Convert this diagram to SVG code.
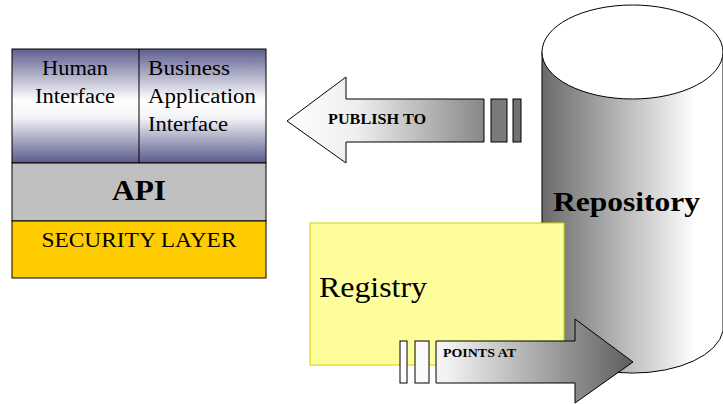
<svg xmlns="http://www.w3.org/2000/svg" width="723" height="404" viewBox="0 0 723 404">
  <style>
    .serif { font-family: "Liberation Serif", "Times New Roman", serif; fill: #000; }
    .bold { font-weight: bold; }
    .outline { stroke: #000; stroke-width: 1; }
  </style>
  <defs>
    <linearGradient id="topGrad" x1="0" y1="0" x2="0" y2="1">
      <stop offset="0" stop-color="#5e5e90"/>
      <stop offset="0.45" stop-color="#ffffff"/>
      <stop offset="0.6" stop-color="#f4f4f8"/>
      <stop offset="1" stop-color="#5a5a8c"/>
    </linearGradient>
    <linearGradient id="cylGrad" x1="542" y1="0" x2="723" y2="0" gradientUnits="userSpaceOnUse">
      <stop offset="0" stop-color="#6a6a6a"/>
      <stop offset="0.85" stop-color="#ffffff"/>
      <stop offset="1" stop-color="#ffffff"/>
    </linearGradient>
    <linearGradient id="pubGrad" x1="287" y1="0" x2="521" y2="0" gradientUnits="userSpaceOnUse">
      <stop offset="0" stop-color="#ffffff"/>
      <stop offset="0.3" stop-color="#eeeeee"/>
      <stop offset="1" stop-color="#6a6a6a"/>
    </linearGradient>
    <linearGradient id="ptsGrad" x1="400" y1="0" x2="633" y2="0" gradientUnits="userSpaceOnUse">
      <stop offset="0" stop-color="#ffffff"/>
      <stop offset="0.2" stop-color="#f2f2f2"/>
      <stop offset="1" stop-color="#5e5e5e"/>
    </linearGradient>
  </defs>

  <g id="client-stack">
    <rect x="12" y="49" width="254" height="114" fill="url(#topGrad)" class="outline"/>
    <line x1="139" y1="49" x2="139" y2="163" class="outline"/>
    <rect x="12" y="163" width="254" height="58" fill="#c0c0c0" class="outline"/>
    <rect x="12" y="221" width="254" height="57" fill="#ffcc00" class="outline"/>
    <text class="serif" font-size="20" x="75" y="75" text-anchor="middle" textLength="66" lengthAdjust="spacingAndGlyphs">Human</text>
    <text class="serif" font-size="20" x="75" y="103" text-anchor="middle" textLength="80" lengthAdjust="spacingAndGlyphs">Interface</text>
    <text class="serif" font-size="20" x="148" y="75" textLength="82" lengthAdjust="spacingAndGlyphs">Business</text>
    <text class="serif" font-size="20" x="148" y="103" textLength="108" lengthAdjust="spacingAndGlyphs">Application</text>
    <text class="serif" font-size="20" x="148" y="131" textLength="80" lengthAdjust="spacingAndGlyphs">Interface</text>
    <text class="serif bold" font-size="30" x="139" y="200" text-anchor="middle" textLength="54" lengthAdjust="spacingAndGlyphs">API</text>
    <text class="serif" font-size="20" x="139" y="247" text-anchor="middle" textLength="195" lengthAdjust="spacingAndGlyphs">SECURITY LAYER</text>
  </g>

  <g id="repository">
    <path d="M542,52 L542,331 A91,47 0 0 0 723,331 L723,52 Z" fill="url(#cylGrad)" class="outline"/>
    <ellipse cx="632.5" cy="52" rx="90.5" ry="47" fill="#ffffff" class="outline"/>
    <text class="serif bold" font-size="28" x="553" y="211" textLength="147" lengthAdjust="spacingAndGlyphs">Repository</text>
  </g>

  <g id="registry">
    <rect x="310" y="223" width="254" height="142" fill="#fdfd9b" stroke="#d0d000" stroke-width="1"/>
    <text class="serif" font-size="30" x="319" y="297" textLength="108" lengthAdjust="spacingAndGlyphs">Registry</text>
  </g>

  <g id="connectors">
    <g id="publish-to">
      <path d="M287,121 L346,77 L346,99 L484,99 L484,142 L346,142 L346,163 Z" fill="url(#pubGrad)" class="outline"/>
      <rect x="491" y="99" width="16" height="43" fill="#7a7a7a" class="outline"/>
      <rect x="513" y="99" width="8" height="43" fill="#727272" class="outline"/>
      <text class="serif bold" font-size="14" x="328" y="124" textLength="98" lengthAdjust="spacingAndGlyphs">PUBLISH TO</text>
    </g>
    <g id="points-at">
      <rect x="400" y="341" width="7" height="42" fill="#ffffff" class="outline"/>
      <rect x="415" y="341" width="14" height="42" fill="#fafafa" class="outline"/>
      <path d="M436,341 L575,341 L575,319 L633,362 L575,403 L575,383 L436,383 Z" fill="url(#ptsGrad)" class="outline"/>
      <text class="serif bold" font-size="13" x="443" y="357" textLength="73" lengthAdjust="spacingAndGlyphs">POINTS AT</text>
    </g>
  </g>
</svg>
